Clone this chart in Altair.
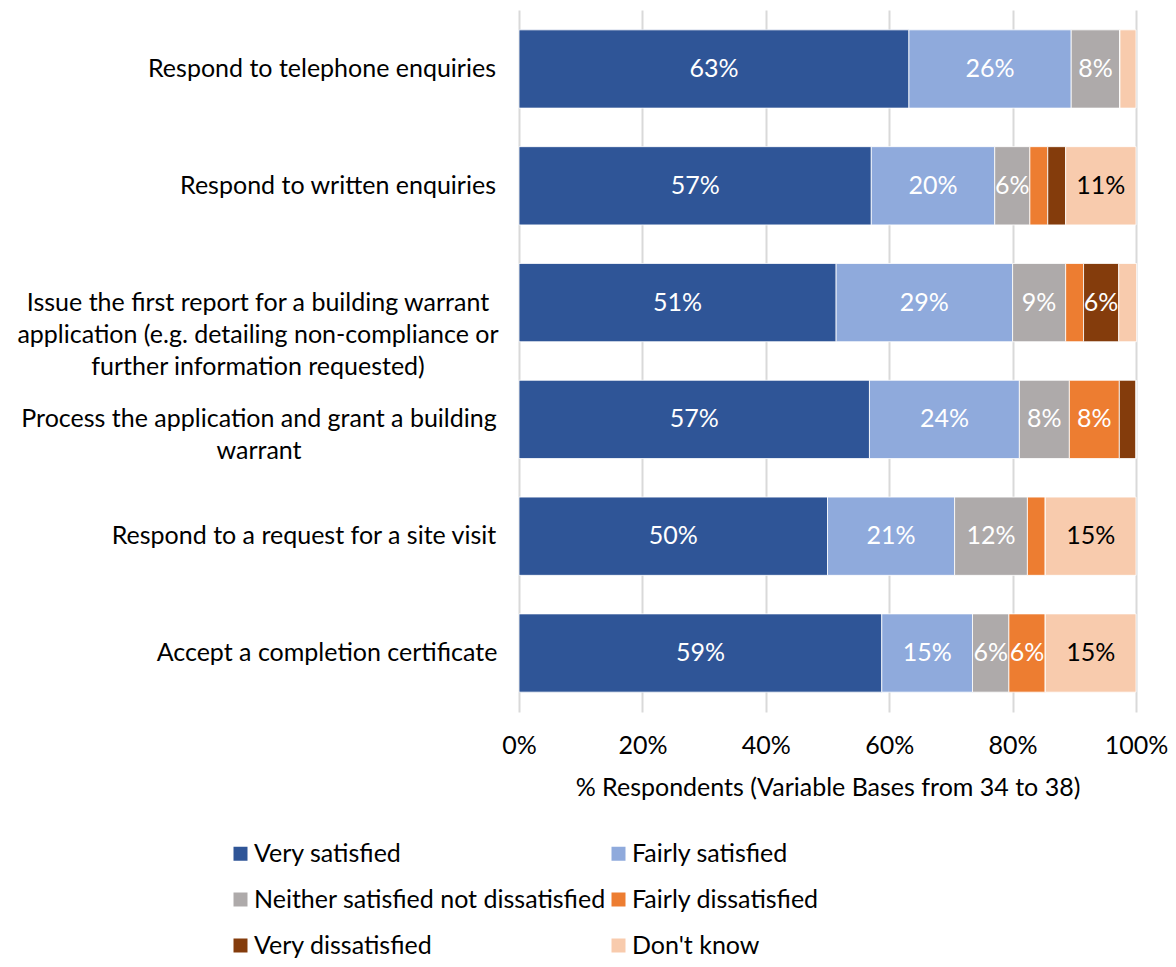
import altair as alt
import pandas as pd

categories = [
    "Respond to telephone enquiries",
    "Respond to written enquiries",
    "Issue the first report for a building warrant|application (e.g. detailing non-compliance or|further information requested)",
    "Process the application and grant a building|warrant",
    "Respond to a request for a site visit",
    "Accept a completion certificate",
]
series = [
    "Very satisfied",
    "Fairly satisfied",
    "Neither satisfied not dissatisfied",
    "Fairly dissatisfied",
    "Very dissatisfied",
    "Don't know",
]
colors = ["#2F5597", "#8FAADC", "#AEAAAA", "#ED7D31", "#843C0C", "#F8CBAD"]

very_satisfied = [63.2, 57.1, 51.4, 56.8, 50.0, 58.8]
fairly_satisfied = [26.3, 20.0, 28.6, 24.3, 20.6, 14.7]
neither = [7.9, 5.7, 8.6, 8.1, 11.8, 5.9]
fairly_dissatisfied = [0.0, 2.9, 2.9, 8.1, 2.9, 5.9]
very_dissatisfied = [0.0, 2.9, 5.7, 2.7, 0.0, 0.0]
dont_know = [2.6, 11.4, 2.9, 0.0, 14.7, 14.7]

x_ticks = [0, 20, 40, 60, 80, 100]

all_series = [very_satisfied, fairly_satisfied, neither, fairly_dissatisfied,
              very_dissatisfied, dont_know]
rows = []
for si, (s, vals) in enumerate(zip(series, all_series)):
    for ci, c in enumerate(categories):
        rows.append({"category": c, "series": s, "order": si, "value": vals[ci]})
df = pd.DataFrame(rows)
cat_df = pd.DataFrame({"category": categories})

FONT = "Lato"
FS = 25

# Style: horizontal centre (px, left of the plot) of each category label block,
# so multi-line labels are centred like the original while their widest line
# ends just left of the axis.
label_centres = [-197, -181, -261, -260, -215, -192]
centre_expr = ""
for c, off in zip(categories, label_centres):
    centre_expr += "datum.category == '" + c + "' ? " + str(off) + " : "
centre_expr += "-200"

y_scale = alt.Scale(domain=categories, paddingInner=0.33, paddingOuter=0.17)

base = alt.Chart(df)

bars = base.mark_bar(stroke="white", strokeWidth=0.8).encode(
    x=alt.X(
        "value:Q",
        stack="zero",
        scale=alt.Scale(domain=[0, 100], nice=False),
        title="% Respondents (Variable Bases from 34 to 38)",
        axis=alt.Axis(
            values=x_ticks,
            labelExpr="datum.value + '%'",
            labelFlush=False,
            labelFontSize=FS,
            labelFont=FONT,
            labelColor="#000000",
            labelPadding=21,
            titleFontSize=FS,
            titleFont=FONT,
            titleFontWeight="normal",
            titleColor="#000000",
            titlePadding=17,
            ticks=False,
            domain=False,
            grid=True,
            gridColor="#D9D9D9",
            gridWidth=2,
        ),
    ),
    y=alt.Y("category:N", sort=categories, title=None, scale=y_scale, axis=None),
    color=alt.Color(
        "series:N",
        sort=series,
        scale=alt.Scale(domain=series, range=colors),
        legend=alt.Legend(
            title=None,
            orient="none",
            direction="horizontal",
            legendX=-291,
            legendY=831,
            columns=2,
            columnPadding=0,
            rowPadding=20,
            symbolType="square",
            symbolSize=196,
            symbolStrokeWidth=0,
            labelFontSize=FS,
            labelFont=FONT,
            labelColor="#000000",
            labelLimit=600,
            labelOffset=1,
        ),
    ),
    order=alt.Order("order:Q"),
)

labels = base.transform_stack(
    stack="value", groupby=["category"], as_=["x0", "x1"],
    sort=[alt.SortField("order", order="ascending")],
).transform_calculate(
    mid="(datum.x0 + datum.x1) / 2",
    lbl="round(datum.value) + '%'",
).transform_filter(
    "datum.value >= 5"
).mark_text(fontSize=FS, font=FONT, baseline="middle", align="center").encode(
    x=alt.X("mid:Q"),
    y=alt.Y("category:N", sort=categories, scale=y_scale),
    text="lbl:N",
    color=alt.condition(
        "datum.series == \"Don't know\"",
        alt.value("#000000"),
        alt.value("#FFFFFF"),
    ),
)

cat_labels = alt.Chart(cat_df).mark_text(
    fontSize=FS, font=FONT, align="center", baseline="middle",
    lineBreak="|", lineHeight=32, color="#000000",
).encode(
    x=alt.value(alt.expr(centre_expr)),
    y=alt.Y("category:N", sort=categories, scale=y_scale),
    text="category:N",
)

chart = alt.layer(bars, labels, cat_labels).properties(
    width=617,
    height=702,
    autosize=alt.AutoSizeParams(type="none"),
    padding={"left": 511, "top": 2, "right": 32, "bottom": 247},
).configure_view(stroke=None)

chart.save("out.html", embed_options={"renderer": "svg", "actions": False})
